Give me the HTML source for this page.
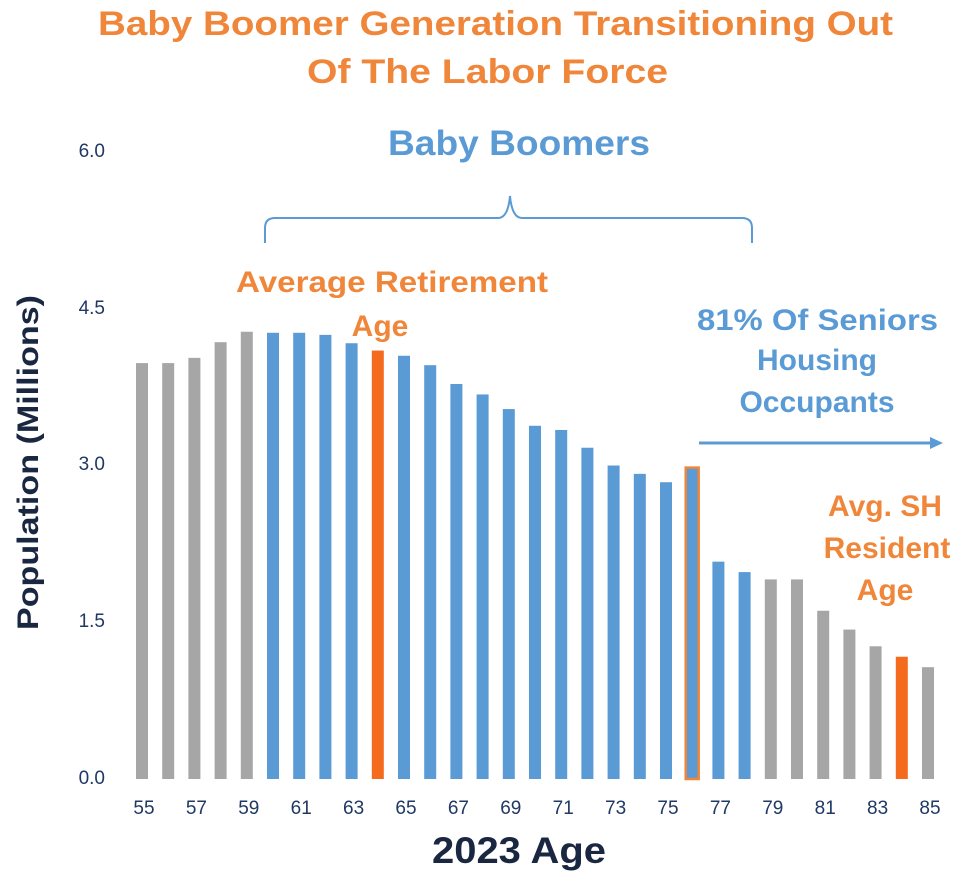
<!DOCTYPE html>
<html><head><meta charset="utf-8"><style>
body{margin:0;background:#fff;width:966px;height:879px;overflow:hidden;font-family:"Liberation Sans",sans-serif}
</style></head><body>
<svg width="966" height="879" xmlns="http://www.w3.org/2000/svg" font-family="Liberation Sans, sans-serif">
<text x="98" y="35" textLength="795" lengthAdjust="spacingAndGlyphs" font-size="34" font-weight="bold" fill="#F0863A">Baby Boomer Generation Transitioning Out</text>
<text x="307" y="83" textLength="361" lengthAdjust="spacingAndGlyphs" font-size="34" font-weight="bold" fill="#F0863A">Of The Labor Force</text>
<text x="388" y="155" textLength="262" lengthAdjust="spacingAndGlyphs" font-size="35" font-weight="bold" fill="#5B9BD5">Baby Boomers</text>
<path d="M265,243 V228 Q265,218 275,218 H498 Q508,218 510,196 Q512,218 522,218 H742 Q752,218 752,228 V243" fill="none" stroke="#5B9BD5" stroke-width="2"/>
<g font-size="19" fill="#1F3864" text-anchor="end">
<text x="105" y="157">6.0</text><text x="105" y="314">4.5</text><text x="105" y="470">3.0</text><text x="105" y="627">1.5</text><text x="105" y="784">0.0</text>
</g>
<text transform="translate(38,463) rotate(-90)" x="-167" textLength="335" lengthAdjust="spacingAndGlyphs" font-size="30" font-weight="bold" fill="#1a2740">Population (Millions)</text>
<text x="432" y="863" textLength="174" lengthAdjust="spacingAndGlyphs" font-size="37" font-weight="bold" fill="#1a2740">2023 Age</text>
<g id="bars"></g>
<g id="labs" font-size="19" fill="#1F3864" text-anchor="middle"></g>
<text x="236" y="292" textLength="312" lengthAdjust="spacingAndGlyphs" font-size="30" font-weight="bold" fill="#F0863A">Average Retirement</text>
<text x="380" y="336" text-anchor="middle" font-size="30" font-weight="bold" fill="#F0863A">Age</text>
<text x="697" y="330" textLength="241" lengthAdjust="spacingAndGlyphs" font-size="30" font-weight="bold" fill="#5B9BD5">81% Of Seniors</text>
<text x="817" y="370" text-anchor="middle" font-size="30" font-weight="bold" fill="#5B9BD5">Housing</text>
<text x="817" y="412" text-anchor="middle" font-size="30" font-weight="bold" fill="#5B9BD5">Occupants</text>
<line x1="699" y1="443" x2="932" y2="443" stroke="#5B9BD5" stroke-width="3"/>
<polygon points="943,443 930,437 930,449" fill="#5B9BD5"/>
<text x="885" y="516" text-anchor="middle" font-size="30" font-weight="bold" fill="#F0863A">Avg. SH</text>
<text x="887" y="558" text-anchor="middle" font-size="30" font-weight="bold" fill="#F0863A">Resident</text>
<text x="885" y="600" text-anchor="middle" font-size="30" font-weight="bold" fill="#F0863A">Age</text>
</svg>
<script>
var v=[3.98,3.98,4.03,4.18,4.28,4.27,4.27,4.25,4.17,4.10,4.05,3.96,3.78,3.68,3.54,3.38,3.34,3.17,3.00,2.92,2.84,2.98,2.08,1.98,1.91,1.91,1.61,1.43,1.27,1.17,1.07];
var g=document.getElementById('bars'),L=document.getElementById('labs'),s='';
var gray='#A6A6A6',blue='#5B9BD5',or='#F56B1E';
for(var i=0;i<31;i++){var age=55+i,c=blue;
if(age<60||(age>=79&&age<=83)||age==85)c=gray;if(age==64||age==84)c=or;
var cx=142+i*26.2,y=779-v[i]*104.5;
if(age==76){s+='<rect x="'+(cx-6.5)+'" y="'+y+'" width="13" height="'+(779-y)+'" fill="'+blue+'" stroke="#F0863A" stroke-width="2.5"/>';}
else s+='<rect x="'+(cx-6)+'" y="'+y+'" width="12" height="'+(779-y)+'" fill="'+c+'"/>';}
g.innerHTML=s;var t='';
for(var i=0;i<31;i+=2){t+='<text x="'+(144+i*26.2)+'" y="814">'+(55+i)+'</text>';}
L.innerHTML=t;
</script>
</body></html>
